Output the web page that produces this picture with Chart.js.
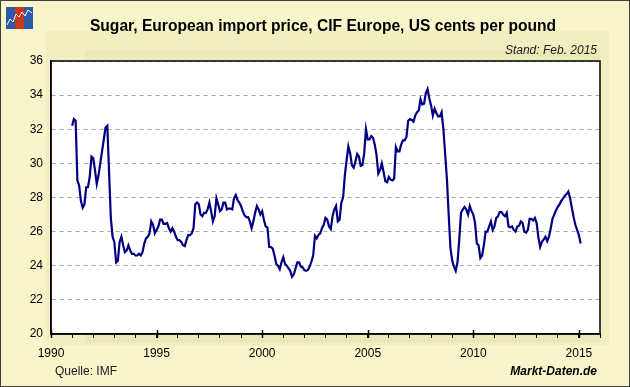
<!DOCTYPE html>
<html>
<head>
<meta charset="utf-8">
<title>Sugar, European import price</title>
<script src="https://cdn.jsdelivr.net/npm/chart.js@4.4.1/dist/chart.umd.min.js"></script>
<style>
  body { margin: 0; background: #f7f5c9; }
  canvas { display: block; }
</style>
</head>
<body>
<canvas id="sugarChart" width="630" height="387"></canvas>
<script>

// monthly prices, US cents per pound, Jan 1991 - Feb 2015
var startYear = 1991;
var prices = [
  32.2, 32.6, 32.5, 29.0, 28.7, 27.8, 27.4, 27.6, 28.6, 28.6, 29.2, 30.4,   // 1991
  30.3, 29.6, 28.8, 29.3, 30.0, 30.7, 31.4, 32.1, 32.2, 29.5, 26.8, 25.7,   // 1992
  25.4, 24.2, 24.3, 25.4, 25.7, 25.2, 24.8, 24.9, 25.2, 24.9, 24.7, 24.7,   // 1993
  24.6, 24.6, 24.7, 24.6, 24.8, 25.3, 25.6, 25.7, 25.9, 26.6, 26.4, 25.9,   // 1994
  26.1, 26.3, 26.7, 26.7, 26.45, 26.45, 26.5, 26.2, 26.0, 26.2, 26.0, 25.7, // 1995
  25.5, 25.5, 25.4, 25.2, 25.15, 25.5, 25.8, 25.8, 25.9, 26.2, 27.6, 27.7,  // 1996
  27.6, 27.0, 26.9, 27.1, 27.1, 27.3, 27.7, 27.2, 26.6, 26.9, 27.95, 27.6,  // 1997
  27.2, 27.3, 27.7, 27.7, 27.3, 27.35, 27.35, 27.3, 27.95, 28.15, 27.85, 27.7, // 1998
  27.5, 27.2, 26.95, 26.85, 26.85, 26.6, 26.2, 26.6, 27.1, 27.5, 27.3, 27.0,   // 1999
  27.2, 26.7, 26.3, 26.25, 25.1, 25.1, 25.0, 24.6, 24.1, 24.0, 23.8, 24.2,  // 2000
  24.5, 24.1, 24.0, 23.85, 23.7, 23.35, 23.5, 23.85, 24.2, 24.2, 23.95, 23.9, // 2001
  23.75, 23.7, 23.75, 23.95, 24.25, 24.6, 25.75, 25.6, 25.8, 25.9, 26.2, 26.4, // 2002
  26.8, 26.7, 26.3, 26.15, 26.9, 27.3, 27.5, 26.6, 26.7, 27.7, 28.0, 29.3,  // 2003
  30.2, 31.0, 30.6, 29.9, 29.75, 30.1, 30.55, 30.4, 29.85, 29.9, 30.6, 32.0, // 2004
  31.4, 31.4, 31.6, 31.5, 31.1, 30.5, 29.4, 29.6, 30.0, 29.5, 28.95, 28.9,  // 2005
  29.2, 29.05, 29.0, 29.1, 30.95, 30.7, 30.7, 31.1, 31.35, 31.35, 31.55, 32.5, // 2006
  32.6, 32.55, 32.45, 32.8, 33.0, 33.1, 33.75, 33.45, 33.5, 34.1, 34.35, 33.8, // 2007
  33.4, 32.8, 33.2, 32.95, 32.75, 32.75, 33.0, 32.0, 30.55, 29.1, 27.0, 25.05, // 2008
  24.3, 23.95, 23.7, 24.2, 25.5, 27.1, 27.3, 27.45, 27.3, 27.0, 27.5, 27.2, // 2009
  27.0, 26.5, 25.3, 25.2, 24.45, 24.6, 25.2, 26.0, 26.0, 26.3, 26.6, 26.1,  // 2010
  26.3, 26.8, 26.9, 27.15, 27.15, 27.0, 26.9, 27.1, 26.3, 26.25, 26.3, 26.1, // 2011
  26.0, 26.3, 26.35, 26.6, 26.5, 26.0, 25.95, 26.1, 26.75, 26.75, 26.65, 26.8, // 2012
  26.5, 25.65, 25.1, 25.4, 25.55, 25.7, 25.45, 25.7, 26.2, 26.75, 27.0, 27.25, // 2013
  27.45, 27.6, 27.8, 27.95, 28.1, 28.2, 28.35, 27.95, 27.4, 26.85, 26.4, 26.1, // 2014
  25.8, 25.3                                                                 // 2015
];
var yearLabels = [1990, 1995, 2000, 2005, 2010, 2015];
var yMin = 20, yMax = 36, yStep = 2;
var xMin = 1990, xMax = 2016;

var titleText = "Sugar, European import price, CIF Europe, US cents per pound";
var standText = "Stand: Feb. 2015";
var sourceText = "Quelle: IMF";
var brandText = "Markt-Daten.de";

var FONT = "'Liberation Sans', Arial, sans-serif";

function buildPoints(){
  var pts = [];
  for (var i = 0; i < prices.length; i++) {
    pts.push({ x: startYear + i / 12, y: prices[i] });
  }
  return pts;
}

var decorations = {
  id: 'decorations',
  beforeDraw: function(chart){
    var ctx = chart.ctx, a = chart.chartArea;
    ctx.save();
    ctx.fillStyle = '#f7f5c9';
    ctx.fillRect(0, 0, chart.width, chart.height);
    // soft band round the plot
    ctx.fillStyle = '#f1eec0';
    ctx.fillRect(a.left - 5, a.top - 30, a.right - a.left + 14, a.bottom - a.top + 41);
    ctx.fillStyle = '#ece9b9';
    ctx.fillRect(a.left + 34, a.top - 11, a.right - a.left - 34, a.bottom - a.top + 20);
    ctx.fillStyle = '#ffffff';
    ctx.fillRect(a.left, a.top, a.right - a.left, a.bottom - a.top);
    ctx.restore();
  },
  afterDraw: function(chart){
    var ctx = chart.ctx, a = chart.chartArea, xs = chart.scales.x;
    ctx.save();
    // frame of the plot
    ctx.strokeStyle = '#000000';
    ctx.lineWidth = 1.5;
    ctx.strokeRect(a.left, a.top, a.right - a.left, a.bottom - a.top);
    // major ticks crossing the axis
    yearLabels.forEach(function(yr){
      var px = Math.round(xs.getPixelForValue(yr)) + 0.5;
      ctx.beginPath();
      ctx.moveTo(px, a.bottom - 4);
      ctx.lineTo(px, a.bottom + 4);
      ctx.stroke();
    });

    // texts
    ctx.fillStyle = '#000000';
    ctx.textBaseline = 'middle';
    ctx.textAlign = 'center';
    ctx.font = 'bold 15.6px ' + FONT;
    ctx.fillText(titleText, 323, 27);
    ctx.textAlign = 'right';
    ctx.font = 'italic 12px ' + FONT;
    ctx.fillStyle = '#1a1a1a';
    ctx.fillText(standText, 597, 51);
    ctx.textAlign = 'left';
    ctx.font = '12px ' + FONT;
    ctx.fillText(sourceText, 55, 372);
    ctx.textAlign = 'right';
    ctx.font = 'italic bold 12px ' + FONT;
    ctx.fillStyle = '#000000';
    ctx.fillText(brandText, 597, 372);

    // small logo
    ctx.fillStyle = '#2a5aa8';
    ctx.fillRect(6, 7, 9, 22);
    ctx.fillStyle = '#c8361e';
    ctx.fillRect(15, 7, 9, 22);
    ctx.fillStyle = '#2a5aa8';
    ctx.fillRect(24, 7, 9, 22);
    ctx.strokeStyle = '#ffffff';
    ctx.lineWidth = 1;
    ctx.beginPath();
    ctx.moveTo(7, 25); ctx.lineTo(10, 19); ctx.lineTo(13, 22); ctx.lineTo(16, 14);
    ctx.lineTo(19, 17); ctx.lineTo(22, 12); ctx.lineTo(25, 16); ctx.lineTo(28, 10); ctx.lineTo(32, 13);
    ctx.stroke();

    // outer frame
    ctx.strokeStyle = '#404040';
    ctx.lineWidth = 1;
    ctx.strokeRect(0.5, 0.5, chart.width - 1, chart.height - 1);
    ctx.restore();
  }
};

function drawChart(){
  var ctx = document.getElementById('sugarChart').getContext('2d');
  Chart.defaults.font.family = FONT;
  Chart.defaults.font.size = 12;
  Chart.defaults.color = '#000000';

  new Chart(ctx, {
    type: 'line',
    data: {
      datasets: [{
        label: 'Sugar',
        data: buildPoints(),
        borderColor: '#000080',
        borderWidth: 2.2,
        pointRadius: 0,
        tension: 0,
        fill: false
      }]
    },
    options: {
      responsive: false,
      animation: false,
      layout: { padding: { top: 61, right: 30, left: 0, bottom: 0 } },
      plugins: {
        legend: { display: false },
        tooltip: { enabled: false },
        title: { display: false }
      },
      scales: {
        x: {
          type: 'linear',
          min: xMin,
          max: xMax,
          afterFit: function(s){ s.height = 53; },
          ticks: {
            stepSize: 1,
            autoSkip: false,
            maxRotation: 0,
            padding: 8,
            callback: function(v){ return yearLabels.indexOf(v) >= 0 ? String(v) : ''; }
          },
          grid: { drawOnChartArea: false, tickLength: 4, color: '#000000', lineWidth: 1 },
          border: { color: '#000000', width: 1.5 }
        },
        y: {
          min: yMin,
          max: yMax,
          afterFit: function(s){ s.width = 51; },
          ticks: { stepSize: yStep, padding: 8 },
          grid: { color: '#a6a6a6', lineWidth: 1, tickLength: 0, drawTicks: false },
          border: { color: '#000000', width: 1.5, dash: [4, 4] }
        }
      }
    },
    plugins: [decorations]
  });
}

drawChart();
</script>
</body>
</html>
